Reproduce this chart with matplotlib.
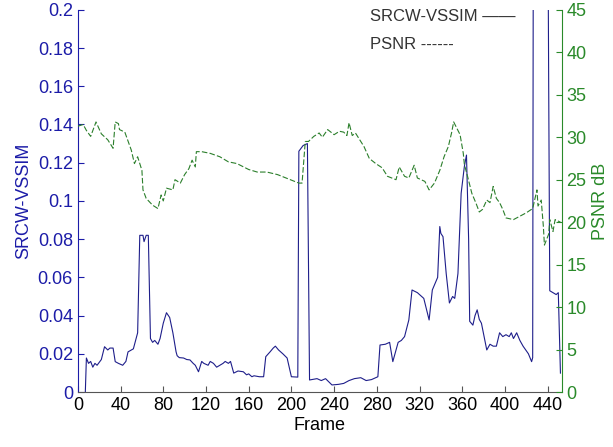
import matplotlib.pyplot as plt

plt.rcParams['font.family'] = ['Liberation Sans', 'DejaVu Sans']

# SRCW-VSSIM (left axis)
vssim_frames = [7, 8, 10, 12, 14, 16, 18, 22, 25, 28, 30, 33, 35, 38, 42, 45, 47, 52, 56, 58,
                61, 62, 64, 66, 68, 70, 72, 75, 77, 80, 83, 86, 89, 92, 93, 95, 99, 102, 105,
                108, 110, 113, 116, 118, 122, 124, 127, 130, 133, 136, 138, 141, 143, 146, 150,
                155, 158, 160, 163, 165, 170, 174, 176, 180, 183, 185, 188, 192, 196, 200, 206,
                207, 211, 215, 217, 224, 228, 232, 238, 244, 249, 254, 259, 265, 270, 275, 281,
                283, 288, 292, 295, 300, 303, 306, 310, 313, 318, 324, 329, 332, 337, 339, 340,
                342, 345, 348, 351, 353, 356, 359, 362, 364, 366, 367, 370, 372, 374, 376, 378,
                383, 386, 389, 392, 395, 398, 401, 404, 406, 408, 411, 414, 417, 422, 425, 426,
                427, 439, 441, 442, 445, 448, 450, 452]
vssim = [0.0, 0.0178, 0.015, 0.016, 0.013, 0.015, 0.014, 0.017, 0.0237, 0.022, 0.023, 0.023,
         0.0159, 0.015, 0.014, 0.016, 0.021, 0.0226, 0.031, 0.082,
         0.082, 0.0787, 0.082, 0.082, 0.028, 0.026, 0.027, 0.025, 0.028, 0.036, 0.0415, 0.039,
         0.031, 0.021, 0.019, 0.018, 0.0178, 0.017, 0.0168,
         0.015, 0.014, 0.0106, 0.016, 0.015, 0.014, 0.016, 0.015, 0.013, 0.014, 0.015, 0.016,
         0.015, 0.016, 0.0099, 0.011,
         0.0106, 0.009, 0.0095, 0.008, 0.0085, 0.008, 0.008, 0.0185, 0.021, 0.023, 0.024, 0.022,
         0.02, 0.0178, 0.008, 0.0078,
         0.126, 0.129, 0.13, 0.0063, 0.007, 0.006, 0.007, 0.0037, 0.004, 0.0045, 0.006, 0.007,
         0.0075, 0.006, 0.0065, 0.008,
         0.0246, 0.025, 0.026, 0.0159, 0.026, 0.027, 0.029, 0.0377, 0.0534, 0.052, 0.049, 0.0377,
         0.0534, 0.060, 0.0866, 0.083,
         0.0813, 0.062, 0.0466, 0.05, 0.049, 0.062, 0.104, 0.118, 0.124, 0.08, 0.037, 0.035,
         0.04, 0.043, 0.038, 0.036,
         0.022, 0.025, 0.024, 0.024, 0.031, 0.029, 0.03, 0.029, 0.031, 0.028, 0.031, 0.027,
         0.024, 0.02, 0.0159, 0.018,
         0.40, 0.40, 0.16, 0.053, 0.052, 0.051, 0.052, 0.0099]

# PSNR (right axis)
psnr_frames = [0, 5, 8, 12, 17, 22, 28, 33, 35, 38, 39, 44, 50, 53, 56, 60, 61, 64, 70, 75,
               78, 80, 83, 89, 91, 96, 100, 104, 107, 110, 111, 116, 124, 133, 141, 149, 160,
               168, 177, 187, 199, 207, 210, 213, 216, 221, 226, 229, 234, 240, 245, 249, 252,
               254, 257, 260, 263, 268, 273, 279, 285, 290, 298, 301, 306, 310, 315, 318, 325,
               329, 334, 339, 343, 347, 350, 352, 354, 358, 361, 362, 365, 369, 373, 376, 379,
               383, 386, 389, 392, 395, 398, 401, 408, 414, 420, 426, 430, 431, 434, 436, 437,
               441, 442, 445, 447, 452]
psnr = [31.3, 31.5, 30.8, 30.1, 31.8, 30.4, 29.7, 28.7, 31.8, 31.6, 30.9, 30.6, 28.5, 26.9,
        27.7, 26.1, 23.8, 22.8, 22.0, 21.6,
        23.2, 22.5, 24.0, 23.8, 25.0, 24.6, 25.6, 26.3, 27.3, 26.5, 28.3, 28.3, 28.1, 27.7,
        27.1, 26.9, 26.2,
        25.9, 25.9, 25.6, 25.0, 24.6, 24.6, 29.5, 29.5, 30.1, 30.5, 30.0, 30.9, 30.3, 30.7,
        30.6, 30.2,
        31.7, 30.2, 30.5, 29.9, 28.9, 27.5, 26.9, 26.4, 25.4, 25.0, 26.5, 25.4, 25.2, 26.7,
        25.2, 24.8,
        23.8, 24.6, 26.1, 27.7, 28.9, 30.5, 31.8, 31.3, 30.3, 28.1, 26.8, 25.4, 23.4, 22.2,
        21.2, 21.5,
        22.6, 22.3, 24.2, 22.8, 22.3, 21.5, 20.5, 20.3, 20.7, 21.1, 21.6, 23.8, 21.9, 22.6,
        19.5, 17.3,
        18.6, 20.3, 18.9, 20.3, 20.0]

blue_axis = '#1c1ca8'
blue_line = '#1e1e8a'
green_axis = '#2a8a2a'
green_line = '#2b7f2b'

fig = plt.figure(figsize=(6.13, 4.47), dpi=100)
ax1 = fig.add_axes([0.127, 0.123, 0.789, 0.855])
ax2 = ax1.twinx()

ax1.plot(vssim_frames, vssim, color=blue_line, linewidth=0.8)
ax2.plot(psnr_frames, psnr, color=green_line, linewidth=0.8, linestyle=(0, (5, 2)))

ax1.set_xlim(0, 453)
ax1.set_ylim(0, 0.2)
ax2.set_ylim(0, 45)
ax1.set_xticks(range(0, 441, 40))
ax1.set_yticks([i * 0.02 for i in range(11)])
ax1.set_yticklabels(['0'] + ['%g' % (i * 0.02) for i in range(1, 11)])
ax2.set_yticks(range(0, 46, 5))

for ax in (ax1, ax2):
    ax.spines['top'].set_visible(False)
ax1.spines['right'].set_visible(False)
ax2.spines['left'].set_visible(False)
ax2.spines['bottom'].set_visible(False)
ax1.spines['left'].set_color(blue_axis)
ax2.spines['right'].set_color(green_axis)
ax1.spines['bottom'].set_color('#555555')

ax1.tick_params(axis='x', direction='in', labelsize=13, colors='#555555', labelcolor='black', length=4)
ax1.tick_params(axis='y', direction='in', labelsize=13, colors=blue_axis, length=4)
ax2.tick_params(axis='y', direction='in', labelsize=13, colors=green_axis, length=4)

ax1.set_xlabel('Frame', fontsize=13, labelpad=2)
ax1.set_ylabel('SRCW-VSSIM', fontsize=13, color=blue_axis)
ax2.set_ylabel('PSNR dB', fontsize=13, color=green_axis)

fig.text(0.603, 0.962, 'SRCW-VSSIM ——', fontsize=12, color='#333333', va='center')
fig.text(0.603, 0.9, 'PSNR ------', fontsize=12, color='#333333', va='center')

fig.savefig('out.png', dpi=100)
